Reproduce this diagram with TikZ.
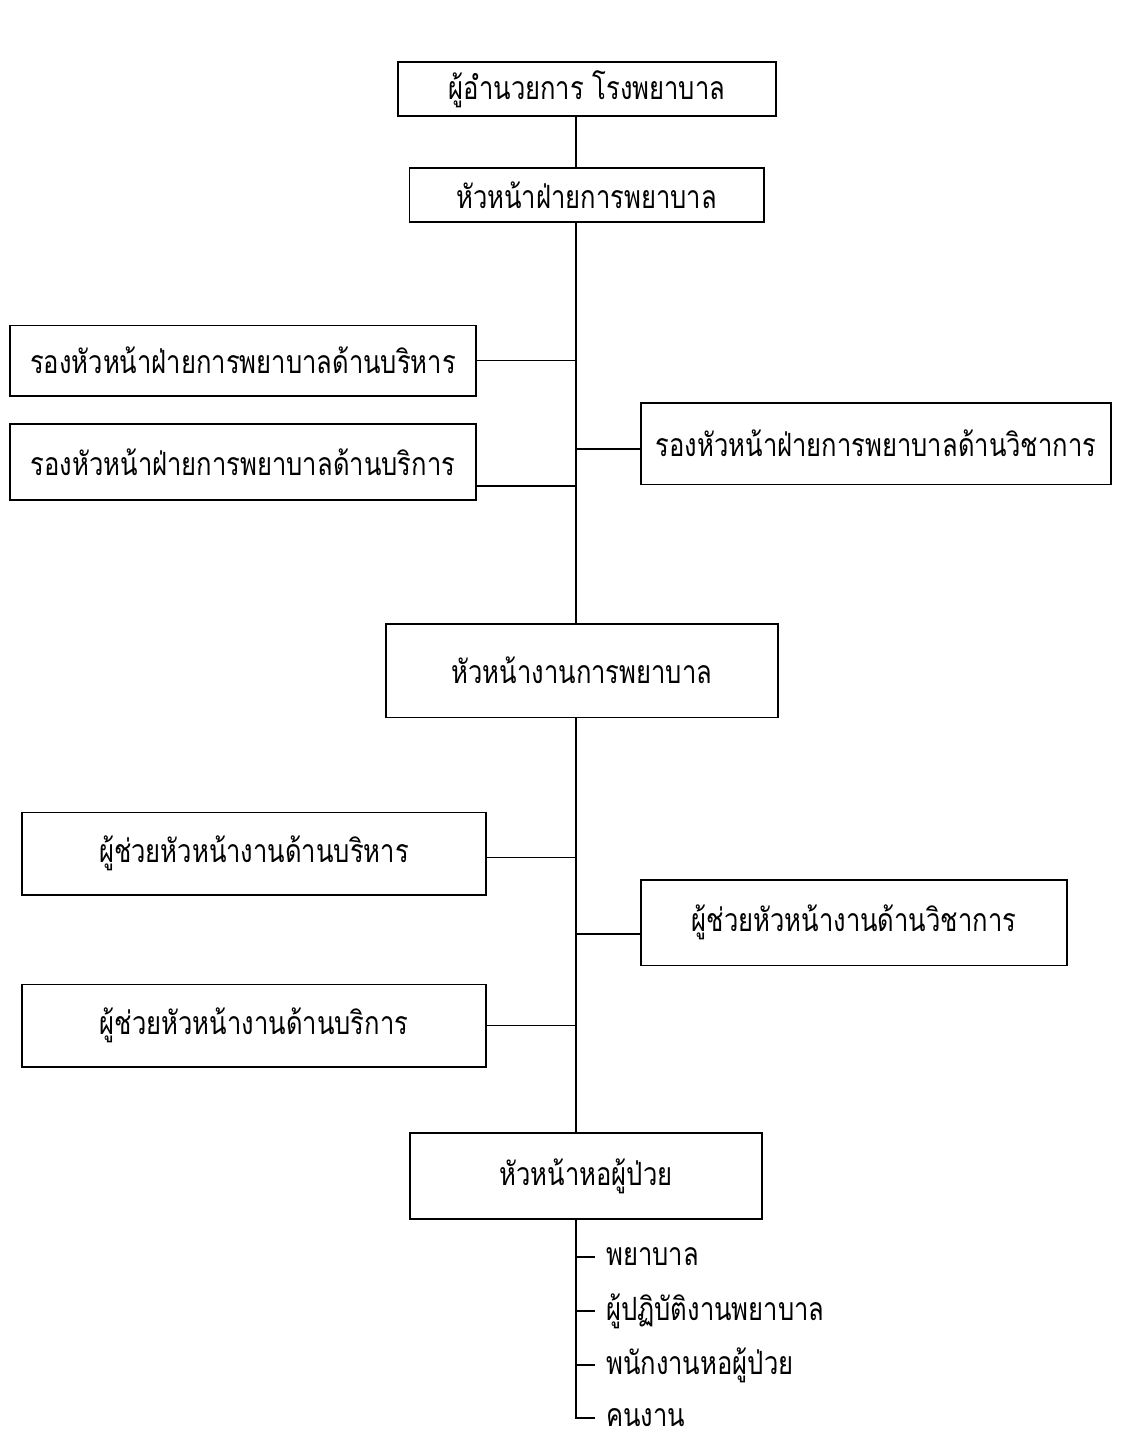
\documentclass[tikz,border=0pt]{standalone}
\usepackage{fontspec}
\newfontfamily\thaifont[Script=Thai, FakeStretch=0.8]{Loma}
\usetikzlibrary{positioning}

\begin{document}
\begin{tikzpicture}[x=0.75pt, y=-0.75pt,
        orgbox/.style={draw, line width=1pt, inner sep=0pt, font=\thaifont\fontsize{24}{28}\selectfont},
        staff/.style={anchor=west, inner sep=0pt, font=\thaifont\fontsize{24}{28}\selectfont},
        link/.style={line width=1pt}]
                \useasboundingbox (0,0) rectangle (1145,1443);

                % Nodes
                \coordinate (spine) at (576,0);
                \node[orgbox, minimum width=283.5pt, minimum height=40.5pt] (director) at (587,89) {ผู้อำนวยการ โรงพยาบาล};
                \node[orgbox, minimum width=266pt, minimum height=40.5pt] (nursehead) at (586.5,195) {หัวหน้าฝ่ายการพยาบาล};
                \node[orgbox, minimum width=349.5pt, minimum height=53pt] (deputyadm) at (243,360.5) {รองหัวหน้าฝ่ายการพยาบาลด้านบริหาร};
                \node[orgbox, minimum width=349.5pt, minimum height=57pt] (deputysvc) at (243,462) {รองหัวหน้าฝ่ายการพยาบาลด้านบริการ};
                \node[orgbox, minimum width=352.5pt, minimum height=61pt] (deputyacad) at (876,443.5) {รองหัวหน้าฝ่ายการพยาบาลด้านวิชาการ};
                \node[orgbox, minimum width=294pt, minimum height=70pt] (workhead) at (582,670.5) {หัวหน้างานการพยาบาล};
                \node[orgbox, minimum width=348pt, minimum height=62pt] (assistadm) at (254,853.5) {ผู้ช่วยหัวหน้างานด้านบริหาร};
                \node[orgbox, minimum width=319.5pt, minimum height=64pt] (assistacad) at (854,922.5) {ผู้ช่วยหัวหน้างานด้านวิชาการ};
                \node[orgbox, minimum width=348pt, minimum height=62pt] (assistsvc) at (254,1025.5) {ผู้ช่วยหัวหน้างานด้านบริการ};
                \node[orgbox, minimum width=264pt, minimum height=64.5pt] (wardhead) at (586,1176) {หัวหน้าหอผู้ป่วย};
                \node[staff] (nurse) at (606,1257) {พยาบาล};
                \node[staff] (practical) at (606,1311) {ผู้ปฏิบัติงานพยาบาล};
                \node[staff] (wardstaff) at (606,1365) {พนักงานหอผู้ป่วย};
                \node[staff] (worker) at (606,1418) {คนงาน};

                % Edges
                \draw[link] (director.south -| spine) -- (nursehead.north -| spine);
                \draw[link] (nursehead.south -| spine) -- (workhead.north -| spine);
                \draw[link] (workhead.south -| spine) -- (wardhead.north -| spine);
                \draw[link] (wardhead.south -| spine) |- ([xshift=-8pt]worker.west);
                \draw[link] (deputyadm.east) -- (deputyadm.east -| spine);
                \draw[link] ([yshift=-18pt]deputysvc.east) -- ([yshift=-18pt]deputysvc.east -| spine);
                \draw[link] ([yshift=-4pt]deputyacad.west) -- ([yshift=-4pt]deputyacad.west -| spine);
                \draw[link] ([yshift=-3pt]assistadm.east) -- ([yshift=-3pt]assistadm.east -| spine);
                \draw[link] ([yshift=-8.5pt]assistacad.west) -- ([yshift=-8.5pt]assistacad.west -| spine);
                \draw[link] (assistsvc.east) -- (assistsvc.east -| spine);
                \draw[link] (nurse.west -| spine) -- ([xshift=-8pt]nurse.west);
                \draw[link] (practical.west -| spine) -- ([xshift=-8pt]practical.west);
                \draw[link] (wardstaff.west -| spine) -- ([xshift=-8pt]wardstaff.west);
            \end{tikzpicture}
\end{document}
